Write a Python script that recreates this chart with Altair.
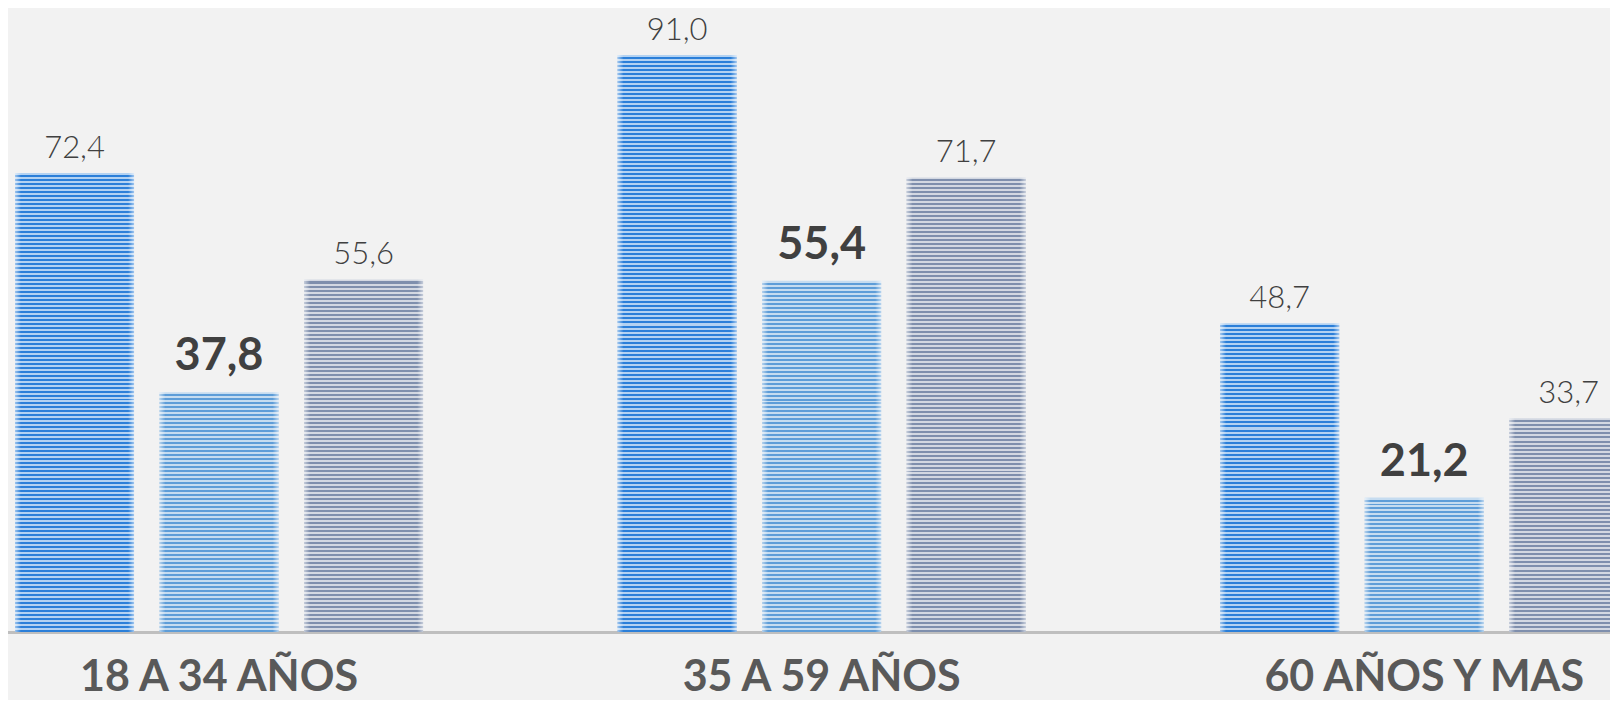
import altair as alt
import pandas as pd

# ---- data ----
grupos = ["18 A 34 AÑOS", "35 A 59 AÑOS", "60 AÑOS Y MAS"]
series = ["Serie 1", "Serie 2", "Serie 3"]
serie1 = [72.4, 91.0, 48.7]
serie2 = [37.8, 55.4, 21.2]
serie3 = [55.6, 71.7, 33.7]

valores = {"Serie 1": serie1, "Serie 2": serie2, "Serie 3": serie3}
rows = []
for s in series:
    for g, v in zip(grupos, valores[s]):
        rows.append({"grupo": g, "serie": s, "valor": v})
df = pd.DataFrame(rows)

# ---- style ----
W, H = 1602, 620
PX_PER_UNIT = 6.34
YMAX = H / PX_PER_UNIT
BG = "#F2F2F2"
stripe_colors = {
    "Serie 1": ("#2B7FD9", "#B3D2F2"),
    "Serie 2": ("#5E9DD8", "#C6DCF0"),
    "Serie 3": ("#7F8FAD", "#D3D8E2"),
}

x_enc = alt.X("grupo:N", sort=grupos,
              scale=alt.Scale(domain=grupos, range=[-90.25, 1717.5],
                              paddingInner=0, paddingOuter=0),
              axis=alt.Axis(title=None, ticks=False, labelAngle=0,
                            labelFont="Lato", labelFontWeight="bold",
                            labelFontSize=43, labelColor="#595959",
                            labelBaseline="alphabetic", labelPadding=58,
                            labelLimit=0, labelOverlap=False,
                            domainColor="#BFBFBF", domainWidth=3,
                            grid=False))
xo_enc = alt.XOffset("serie:N", sort=series,
                     scale=alt.Scale(domain=series, paddingInner=0.1765,
                                     paddingOuter=0.673))
y_enc = alt.Y("valor:Q", scale=alt.Scale(domain=[0, YMAX], nice=False),
              axis=None)

base = alt.Chart(df)

layers = []
for s in series:
    dark, light = stripe_colors[s]
    for g, v in zip(grupos, valores[s]):
        h = v * PX_PER_UNIT
        n = max(1, round(h / 4.0))
        stops = []
        for i in range(n):
            a = i / n
            m = (i + 0.5) / n
            b = (i + 1) / n
            stops += [
                alt.GradientStop(color=light, offset=a),
                alt.GradientStop(color=light, offset=m),
                alt.GradientStop(color=dark, offset=m),
                alt.GradientStop(color=dark, offset=b),
            ]
        grad = alt.LinearGradient(gradient="linear", stops=stops,
                                  x1=0, x2=0, y1=0, y2=1)
        layer = base.transform_filter(
            (alt.datum.grupo == g) & (alt.datum.serie == s)
        ).mark_bar(fill=grad, clip=True, strokeWidth=0).encode(
            x=x_enc, xOffset=xo_enc, y=y_enc
        )
        layers.append(layer)

# soft lighter edges on the sides of each bar
edge = alt.LinearGradient(
    gradient="linear", x1=0, x2=1, y1=0, y2=0,
    stops=[
        alt.GradientStop(color="rgba(255,255,255,0.55)", offset=0),
        alt.GradientStop(color="rgba(255,255,255,0)", offset=0.05),
        alt.GradientStop(color="rgba(255,255,255,0)", offset=0.95),
        alt.GradientStop(color="rgba(255,255,255,0.55)", offset=1),
    ])
layers.append(base.mark_bar(fill=edge, clip=True, strokeWidth=0).encode(
    x=x_enc, xOffset=xo_enc, y=y_enc))

labeled = base.transform_calculate(
    etiqueta="replace(format(datum.valor, '.1f'), '.', ',')"
)
layers.append(
    labeled.transform_filter(alt.datum.serie != "Serie 2").mark_text(
        font="Lato", fontWeight=300, fontSize=31, color="#404040",
        baseline="alphabetic", dy=-15
    ).encode(x=x_enc, xOffset=xo_enc, y=y_enc, text="etiqueta:N")
)
layers.append(
    labeled.transform_filter(alt.datum.serie == "Serie 2").mark_text(
        font="Lato", fontWeight="bold", fontSize=45, color="#404040",
        baseline="alphabetic", dy=-22
    ).encode(x=x_enc, xOffset=xo_enc, y=y_enc, text="etiqueta:N")
)

chart = alt.layer(*layers).properties(
    width=W, height=H, background=BG,
    autosize=alt.AutoSizeParams(type="none"),
    padding={"left": 0, "top": 4, "right": 0, "bottom": 68},
).configure_view(stroke=None)

chart.save("out.html", embed_options={"renderer": "svg", "actions": False})
